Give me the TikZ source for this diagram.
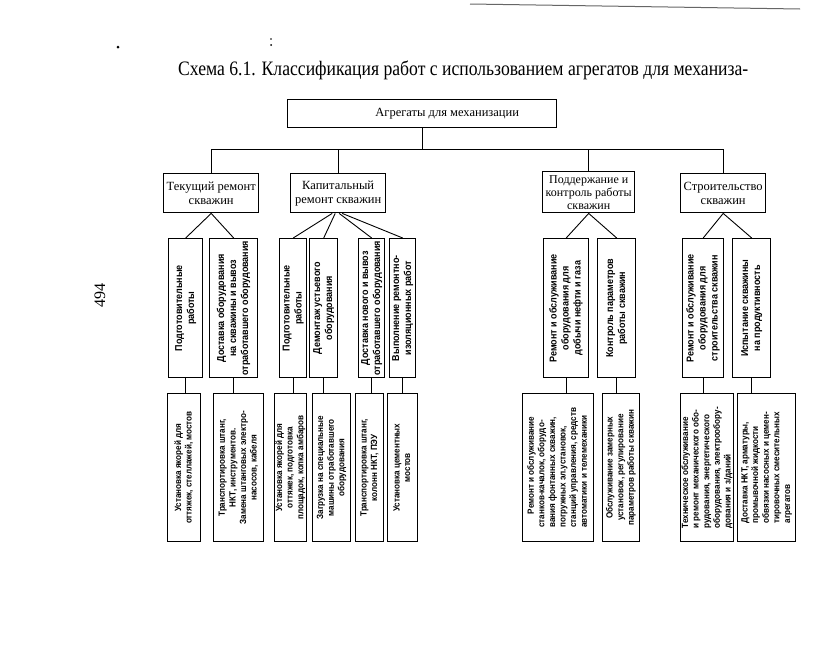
\documentclass[tikz,border=0pt]{standalone}
\usepackage{fontspec}
\usepackage{graphicx}
\setmainfont{Liberation Serif}
\newfontfamily\sansb[FakeStretch=0.9]{Liberation Sans}
\newcommand\midtext[2][c]{\rotatebox{90}{\sansb\bfseries\fontsize{10}{12}\selectfont\begin{tabular}{@{}#1@{}}#2\end{tabular}}}
\newcommand\bottext[2][c]{\rotatebox{90}{\sansb\bfseries\fontsize{9}{10.6}\selectfont\begin{tabular}{@{}#1@{}}#2\end{tabular}}}
\tikzset{
  box/.style={draw, line width=1.4pt, inner sep=0pt, anchor=north west, align=center},
  hb/.style={box, font=\fontsize{12.5}{14}\selectfont},
  rb/.style={box, minimum height=139pt},
  bb/.style={box, minimum height=148pt},
  conn/.style={line width=0.9pt},
}
\begin{document}
\begin{tikzpicture}[x=1pt,y=-1pt]
\useasboundingbox[fill=white] (0,0) rectangle (833,651);
% scan marks
\draw[line width=1pt, black!60] (470,4) -- (800,9);
\fill (118,47) circle (1.5pt);
\fill (271,39) circle (0.8pt);
\fill (271,45) circle (1pt);
% title
\node[anchor=base west, inner sep=0pt] (title) at (178,75)
  {\resizebox{570pt}{\height}{\fontsize{20.5}{24}\selectfont Схема 6.1. Классификация работ с использованием агрегатов для механиза-}};
\node[rotate=90, inner sep=0pt, font=\fontsize{16}{18}\selectfont] (pg) at (100,295) {494};
% level 1
\node[hb, minimum width=269pt, minimum height=28pt] (main) at (287,99) {\hspace*{50pt}Агрегаты для механизации};
% level 2
\node[hb, minimum width=95pt, minimum height=39pt] (tek) at (163,173) {Текущий ремонт\\скважин};
\node[hb, minimum width=95pt, minimum height=39pt] (kap) at (290,173) {Капитальный\\ремонт скважин};
\node[hb, minimum width=92pt, minimum height=41pt, font=\fontsize{12}{13}\selectfont] (pod) at (542,171) {Поддержание и\\контроль работы\\скважин};
\node[hb, minimum width=85pt, minimum height=39pt] (str) at (680,173) {Строительство\\скважин};
% level 3
\node[rb, minimum width=34pt] (t1) at (168,238) {\midtext{Подготовительные\\работы}};
\node[rb, minimum width=48pt] (t2) at (209,238) {\midtext{Доставка оборудования\\на скважины и вывоз\\отработавшего оборудования}};
\node[rb, minimum width=27pt] (k1) at (279,238) {\midtext{Подготовительные\\работы}};
\node[rb, minimum width=28pt] (k2) at (309,238) {\midtext{Демонтаж устьевого\\оборудования}};
\node[rb, minimum width=26pt] (k3) at (358,238) {\midtext{Доставка нового и вывоз\\отработавшего оборудования}};
\node[rb, minimum width=26pt] (k4) at (389,238) {\midtext{Выполнение ремонтно-\\изоляционных работ}};
\node[rb, minimum width=45pt] (p1) at (543,238) {\midtext{Ремонт и обслуживание\\оборудования для\\добычи нефти и газа}};
\node[rb, minimum width=38pt] (p2) at (597,238) {\midtext{Контроль параметров\\работы скважин}};
\node[rb, minimum width=41pt] (s1) at (682,238) {\midtext{Ремонт и обслуживание\\оборудования для\\строительства скважин}};
\node[rb, minimum width=38pt] (s2) at (732,238) {\midtext{Испытание скважины\\на продуктивность}};
% level 4
\node[bb, minimum width=33pt] (b1) at (167,393) {\bottext{Установка якорей для\\оттяжек, стеллажей, мостов}};
\node[bb, minimum width=50pt] (b2) at (213,393) {\bottext{Транспортировка штанг,\\НКТ, инструментов.\\Замена штанговых электро-\\насосов, кабеля}};
\node[bb, minimum width=28pt] (b3) at (274,393) {\bottext{Установка якорей для\\оттяжек, подготовка\\площадок, копка амбаров}};
\node[bb, minimum width=38pt] (b4) at (312,393) {\bottext{Загрузка на специальные\\машины отработавшего\\оборудования}};
\node[bb, minimum width=28pt] (b5) at (355,393) {\bottext{Транспортировка штанг,\\колонн НКТ, ПЭУ}};
\node[bb, minimum width=30pt] (b6) at (387,393) {\bottext{Установка цементных\\мостов}};
\node[bb, minimum width=71pt] (b7) at (522,393) {\bottext[l]{\hspace*{1.5em}Ремонт и обслуживание\\станков-качалок, оборудо-\\вания фонтанных скважин,\\погружных эл.установок,\\станций управления, средств\\автоматики и телемеханики}};
\node[bb, minimum width=37pt] (b8) at (602,393) {\bottext{Обслуживание замерных\\установок, регулирование\\параметров работы скважин}};
\node[bb, minimum width=53pt] (b9) at (680,393) {\bottext[l]{Техническое обслуживание\\и ремонт механического обо-\\рудования, энергетического\\оборудования, электрообору-\\дования и з/даний}};
\node[bb, minimum width=58pt] (b10) at (737,393) {\bottext[l]{Доставка НКТ, арматуры,\\промывочной жидкости\\обвязки насосных и цемен-\\тировочных смесительных\\агрегатов}};
% connectors
\coordinate (bus) at (0,149);
\draw[conn] (main.south) -- (main.south |- bus);
\draw[conn] (tek.north |- bus) -- (str.north |- bus);
\foreach \n in {tek,kap,pod,str} \draw[conn] (\n.north |- bus) -- (\n.north);
\draw[conn] (tek.south) -- (t1.north);
\draw[conn] (tek.south) -- (t2.north);
\draw[conn] ([xshift=-6pt]kap.south) -- (k1.north);
\draw[conn] ([xshift=-3pt]kap.south) -- (k2.north);
\draw[conn] ([xshift=1pt]kap.south) -- (k3.north);
\draw[conn] ([xshift=4pt]kap.south) -- (k4.north);
\draw[conn] (pod.south) -- (p1.north);
\draw[conn] (pod.south) -- (p2.north);
\draw[conn] (str.south) -- (s1.north);
\draw[conn] (str.south) -- (s2.north);
\foreach \a/\b in {t1/b1,t2/b2,k1/b3,k2/b4,k3/b5,k4/b6,p1/b7,p2/b8,s1/b9,s2/b10}
  \draw[conn] (\a.south) -- (\a.south |- \b.north);
\end{tikzpicture}
\end{document}
